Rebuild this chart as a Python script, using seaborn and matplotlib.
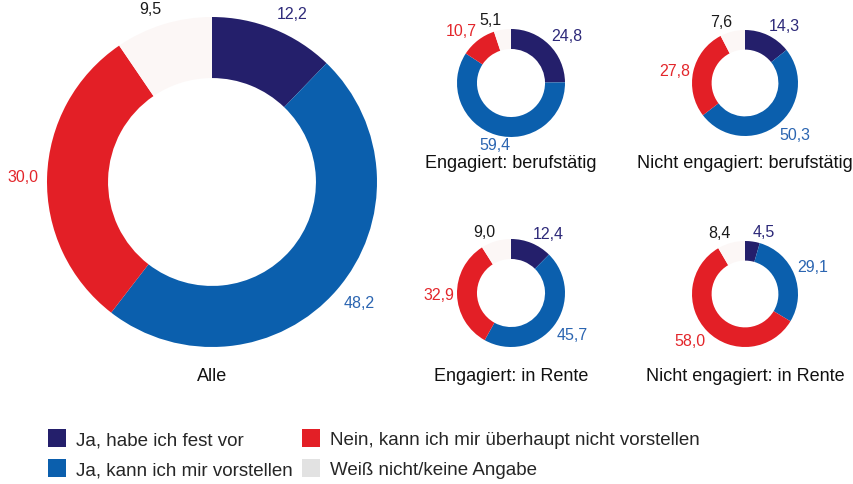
import numpy as np
import matplotlib
matplotlib.use("Agg")
import matplotlib.pyplot as plt
from matplotlib.patches import Patch
import seaborn as sns

# categories (clockwise from 12 o'clock)
categories = ['Ja, habe ich fest vor', 'Ja, kann ich mir vorstellen',
              'Nein, kann ich mir überhaupt nicht vorstellen', 'Weiß nicht/keine Angabe']

# shares in percent per group
groups = ['Alle', 'Engagiert: berufstätig', 'Nicht engagiert: berufstätig',
          'Engagiert: in Rente', 'Nicht engagiert: in Rente']
alle = [12.2, 48.2, 30.0, 9.5]
eng_beruf = [24.8, 59.4, 10.7, 5.1]
nicht_eng_beruf = [14.3, 50.3, 27.8, 7.6]
eng_rente = [12.4, 45.7, 32.9, 9.0]
nicht_eng_rente = [4.5, 29.1, 58.0, 8.4]

wedge_colors = ['#241f6b', '#0b5fad', '#e31f26', '#fcf7f6']
legend_colors = ['#241f6b', '#0b5fad', '#e31f26', '#e2e2e2']
label_colors = ['#2d2979', '#2b65b1', '#e3262b', '#1a1a1a']

sns.set_theme(style='white')
plt.rcParams['font.family'] = ['Liberation Sans', 'DejaVu Sans']

W, H = 854, 485
fig = plt.figure(figsize=(W / 100, H / 100), dpi=100)
fig.patch.set_facecolor('white')

L = 1.3


def donut(values, title, cx, cy, r, title_dy):
    ax = fig.add_axes([(cx - r * L) / W, 1 - (cy + r * L) / H, 2 * r * L / W, 2 * r * L / H])
    wedges, _ = ax.pie(values, colors=wedge_colors, startangle=90, counterclock=False,
                       wedgeprops=dict(width=0.37, linewidth=0))
    for w, v, c in zip(wedges, values, label_colors):
        t = np.deg2rad((w.theta1 + w.theta2) / 2)
        x, y = np.cos(t), np.sin(t)
        lim = 0.1 if y > 0 else 0.285
        ha = 'left' if x > lim else ('right' if x < -lim else 'center')
        va = 'bottom' if y > 0.3 else ('top' if y < -0.3 else 'center')
        ax.text(1.05 * x, 1.05 * y, f'{v:.1f}'.replace('.', ','), ha=ha, va=va,
                color=c, fontsize=11.5, clip_on=False)
    ax.set_xlim(-L, L)
    ax.set_ylim(-L, L)
    ax.set_aspect('equal')
    ax.axis('off')
    fig.text(cx / W, 1 - (cy + title_dy) / H, title, ha='center', va='center',
             fontsize=13, color='#111111')


donut(alle, groups[0], 212, 183, 165, 194)
donut(eng_beruf, groups[1], 511, 84, 54, 79)
donut(nicht_eng_beruf, groups[2], 745, 84, 53, 79)
donut(eng_rente, groups[3], 511, 294, 54, 83)
donut(nicht_eng_rente, groups[4], 745, 295, 53, 82)

handles = [Patch(facecolor=c, edgecolor='none') for c in legend_colors]
fig.legend(handles, categories, ncol=2, loc='upper left',
           bbox_to_anchor=(48 / W, 1 - 430 / H), frameon=False, fontsize=13.5,
           handlelength=0.95, handleheight=1.1, handletextpad=0.55,
           columnspacing=0.5, labelspacing=0.55, borderpad=0, borderaxespad=0)

fig.savefig('out.png', dpi=100, facecolor='white')
